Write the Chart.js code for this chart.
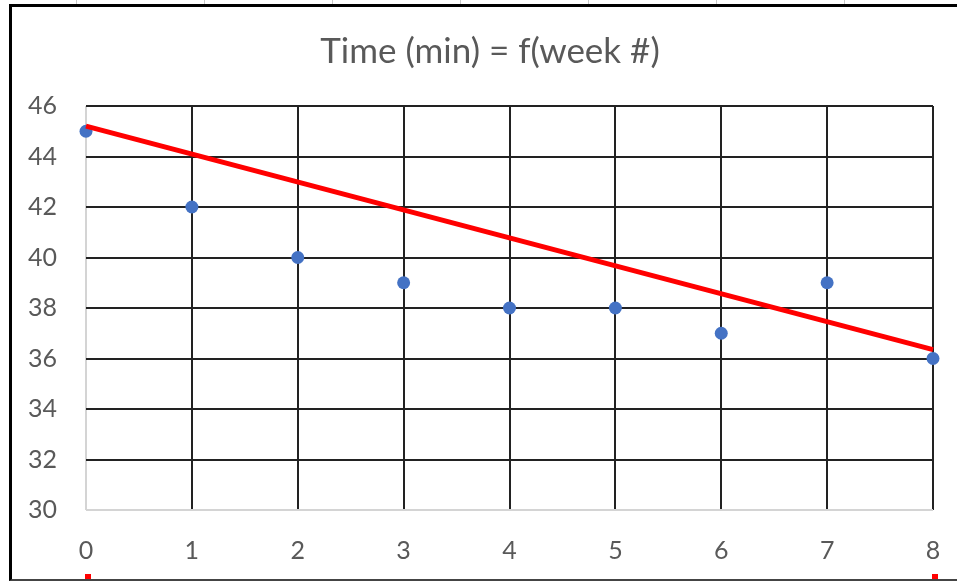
<!DOCTYPE html>
<html>
<head>
<meta charset="utf-8">
<script src="https://cdn.jsdelivr.net/npm/chart.js@4.4.0/dist/chart.umd.min.js"></script>
<style>
  html, body { margin: 0; padding: 0; background: #fff; }
  body { width: 957px; height: 581px; overflow: hidden; position: relative; }
  #strip {
    position: absolute; left: 0; top: 0; width: 957px; height: 4px;
    background: repeating-linear-gradient(to right, transparent 0 127px, #c8c8c8 127px 128px);
    background-position: -51px 0;
  }
  #frame {
    position: absolute; left: 9px; top: 4px; width: 1000px; height: 577px;
    box-sizing: border-box;
    border-left: 3px solid #000; border-top: 3px solid #000; border-bottom: 2px solid #444;
  }
  #chart { position: absolute; left: 28px; top: 7px; }
</style>
</head>
<body>
<div id="strip"></div>
<div id="frame"></div>
<canvas id="chart" width="924" height="572"></canvas>
<script>
const weeks = [0, 1, 2, 3, 4, 5, 6, 7, 8];
const times = [45, 42, 40, 39, 38, 38, 37, 39, 36];

// hand drawn red line, read from its two ends
const trendWeeks = [0, 8];
const trendTimes = [45.2, 36.35];

const yTicks = [30, 32, 34, 36, 38, 40, 42, 44, 46];
const xTicks = [0, 1, 2, 3, 4, 5, 6, 7, 8];

const textColor = "#595959";
const fontFamily = "Lato, 'Open Sans', sans-serif";

const points = weeks.map((w, i) => ({ x: w, y: times[i] }));
const trend = trendWeeks.map((w, i) => ({ x: w, y: trendTimes[i] }));

// little red squares under the chart at both ends of the x axis
const endMarks = {
  id: "endMarks",
  afterDraw(chart) {
    const ctx = chart.ctx;
    const xs = chart.scales.x;
    ctx.save();
    ctx.fillStyle = "#ff0000";
    [xTicks[0], xTicks[xTicks.length - 1]].forEach((v) => {
      const px = xs.getPixelForValue(v);
      ctx.fillRect(px - 1, chart.height - 5, 6, 5);
    });
    ctx.restore();
  }
};

const gridColor = (edgeValue) => (c) =>
  c.tick && c.tick.value === edgeValue ? "#d4d4d4" : "#222";

new Chart(document.getElementById("chart").getContext("2d"), {
  type: "scatter",
  data: {
    datasets: [
      {
        data: trend,
        showLine: true,
        borderColor: "#ff0000",
        borderWidth: 5,
        pointRadius: 0,
        pointHoverRadius: 0,
        clip: false
      },
      {
        data: points,
        backgroundColor: "#4472c4",
        borderWidth: 0,
        pointRadius: 6.5,
        clip: false
      }
    ]
  },
  options: {
    responsive: false,
    animation: false,
    layout: { padding: 0 },
    plugins: {
      legend: { display: false },
      tooltip: { enabled: false },
      title: {
        display: true,
        text: "Time (min) = f(week #)",
        color: textColor,
        font: { family: fontFamily, size: 35, weight: "normal" },
        padding: { top: 24, bottom: 33 }
      }
    },
    scales: {
      x: {
        type: "linear",
        min: 0,
        max: 8,
        afterBuildTicks: (s) => { s.ticks = xTicks.map((v) => ({ value: v })); },
        afterFit: (s) => { s.height = 69; s.paddingRight = 19; },
        border: { display: false },
        grid: { color: gridColor(0), lineWidth: 2, drawTicks: false },
        ticks: {
          color: textColor,
          padding: 26,
          font: { family: fontFamily, size: 25 }
        }
      },
      y: {
        min: 30,
        max: 46,
        afterBuildTicks: (s) => { s.ticks = yTicks.map((v) => ({ value: v })); },
        afterFit: (s) => { s.width = 58; },
        border: { display: false },
        grid: { color: gridColor(30), lineWidth: 2, drawTicks: false },
        ticks: {
          color: textColor,
          crossAlign: "far",
          font: { family: fontFamily, size: 25 }
        }
      }
    }
  },
  plugins: [endMarks]
});
</script>
</body>
</html>
